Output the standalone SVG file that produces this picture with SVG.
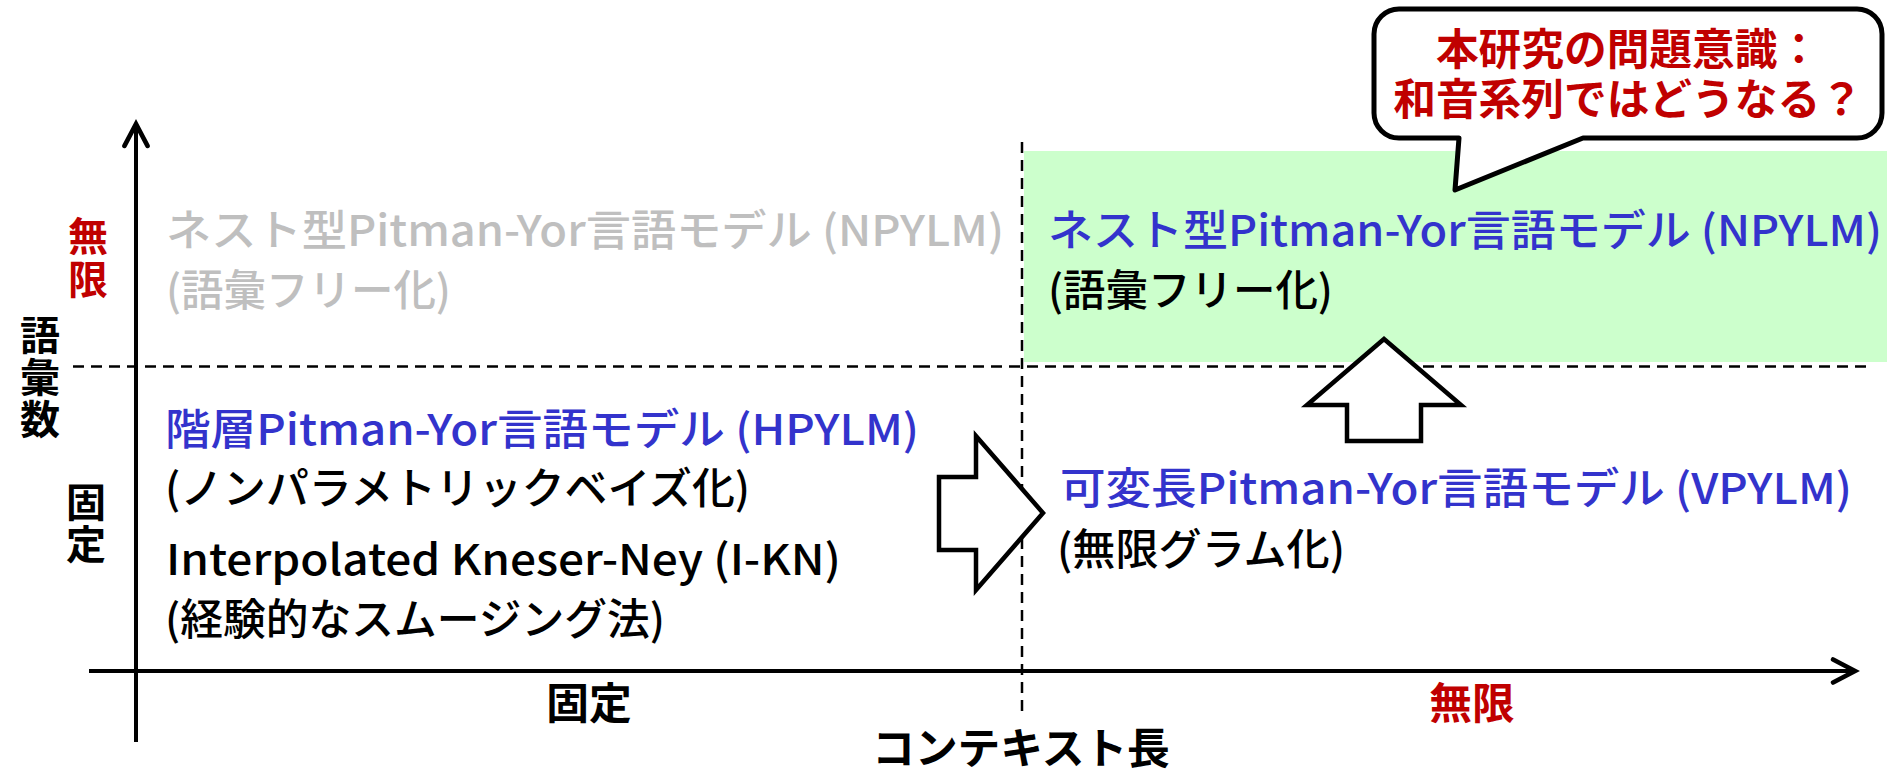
<svg xmlns="http://www.w3.org/2000/svg" width="1893" height="770" viewBox="0 0 1893 770">
<style>
text{font-family:"Noto Sans CJK JP","Noto Sans",sans-serif;font-size:42.7px;font-weight:500;fill:#000}
.b{font-weight:700}
.v{font-size:40px}
.red{fill:#C00000}
.blue{fill:#3333CC}
.gray{fill:#BFBFBF}
.axis{stroke:#000;stroke-width:4;fill:none}
.dash{stroke:#000;stroke-width:2.5;stroke-dasharray:11 7;fill:none}
.big{fill:#fff;stroke:#000;stroke-width:4.5;stroke-linejoin:miter}
.mid{text-anchor:middle}
</style>
<defs>
<marker id="open" markerUnits="userSpaceOnUse" markerWidth="30" markerHeight="30" viewBox="-22 -12 26 24" refX="0" refY="0" orient="auto">
<polyline points="-19,-10 0,0 -19,10" fill="none" stroke="#000" stroke-width="4" stroke-linecap="round" stroke-linejoin="miter"/>
</marker>
</defs>
<rect id="green-region" x="1024" y="151" width="863" height="211" fill="#CCFFCC"/>
<g id="connectors">
<line class="dash" x1="73" y1="366.5" x2="1871" y2="366.5"/>
<line class="dash" x1="1022" y1="142" x2="1022" y2="712"/>
<line class="axis" x1="136" y1="742" x2="136" y2="124" marker-end="url(#open)"/>
<line class="axis" x1="89" y1="671" x2="1855" y2="671" marker-end="url(#open)"/>
<polygon id="arrow-right" class="big" points="939,477 976,477 976,436 1043,513 976,590 976,550 939,550"/>
<polygon id="arrow-up" class="big" points="1384,339 1461,405 1421,405 1421,441 1347,441 1347,405 1307,405"/>
</g>
<g id="axis-labels">
<text class="b red mid v" x="88" y="251">無</text>
<text class="b red mid v" x="88" y="294">限</text>
<text class="b mid v" x="40" y="350">語</text>
<text class="b mid v" x="40" y="392">彙</text>
<text class="b mid v" x="40" y="434">数</text>
<text class="b mid v" x="86" y="517">固</text>
<text class="b mid v" x="86" y="559">定</text>
<text class="b mid" x="589" y="719">固定</text>
<text class="b red mid" x="1472" y="719">無限</text>
<text class="b mid" x="1021" y="764">コンテキスト長</text>
</g>
<g id="node-npylm-gray">
<text class="gray" x="166" y="246" textLength="838" lengthAdjust="spacingAndGlyphs">ネスト型Pitman-Yor言語モデル (NPYLM)</text>
<text class="gray" x="166" y="306" textLength="285" lengthAdjust="spacingAndGlyphs">(語彙フリー化)</text>
</g>
<g id="node-npylm">
<text class="blue" x="1048" y="246" textLength="834" lengthAdjust="spacingAndGlyphs">ネスト型Pitman-Yor言語モデル (NPYLM)</text>
<text x="1048" y="306" textLength="285" lengthAdjust="spacingAndGlyphs">(語彙フリー化)</text>
</g>
<g id="node-hpylm">
<text class="blue" x="165" y="445" textLength="754" lengthAdjust="spacingAndGlyphs">階層Pitman-Yor言語モデル (HPYLM)</text>
<text x="165" y="504" textLength="585" lengthAdjust="spacingAndGlyphs">(ノンパラメトリックベイズ化)</text>
</g>
<g id="node-ikn">
<text x="166" y="575" textLength="675" lengthAdjust="spacingAndGlyphs">Interpolated Kneser-Ney (I-KN)</text>
<text x="165" y="635" textLength="500" lengthAdjust="spacingAndGlyphs">(経験的なスムージング法)</text>
</g>
<g id="node-vpylm">
<text class="blue" x="1060" y="504" textLength="792" lengthAdjust="spacingAndGlyphs">可変長Pitman-Yor言語モデル (VPYLM)</text>
<text x="1057" y="565" textLength="288" lengthAdjust="spacingAndGlyphs">(無限グラム化)</text>
</g>
<g id="callout">
<path d="M1399,9 H1857 A25,25 0 0 1 1882,34 V113 A25,25 0 0 1 1857,138 H1583 L1455,190 L1459,138 H1399 A25,25 0 0 1 1374,113 V34 A25,25 0 0 1 1399,9 Z" fill="#fff" stroke="#000" stroke-width="5" stroke-linejoin="round"/>
<text class="b red mid" x="1628" y="65">本研究の問題意識：</text>
<text class="b red mid" x="1628" y="115">和音系列ではどうなる？</text>
</g>
</svg>
